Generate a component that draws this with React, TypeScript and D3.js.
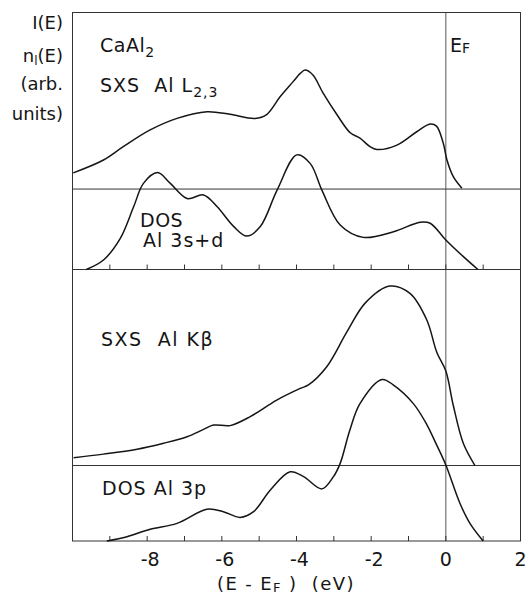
import React from "react";
import * as d3 from "d3";

// x axis (E - E_F, eV)
const xDomain = [-10, 2];
const xTicksMinor = [-9, -8, -7, -6, -5, -4, -3, -2, -1, 0, 1];
const xTickLabels = [-8, -6, -4, -2, 0, 2];

// Upper panel: SXS Al L2,3 (offset above baseline) and DOS Al 3s+d
const sxsL23E = [-9.98, -9.17, -8.64, -7.92, -7.2, -6.4, -5.78, -5.11, -4.8, -4.44, -4.09, -3.9, -3.77, -3.56, -3.29, -2.91, -2.56, -2.3, -2.03, -1.85, -1.31, -0.78, -0.42, -0.25, -0.07, 0.03, 0.2, 0.43];
const sxsL23I = [6.3, 11.3, 16.5, 23.0, 27.5, 30.1, 29.1, 27.5, 29.0, 35.9, 41.8, 45.0, 46.3, 44.4, 37.4, 28.8, 21.9, 19.8, 16.5, 15.4, 17.1, 22.3, 25.3, 24.5, 17.9, 11.3, 4.8, 0.3];
const sxsL23Offset = 31.3;

const dos3sdE = [-9.63, -9.17, -8.72, -8.36, -8.1, -7.72, -7.38, -6.93, -6.49, -6.13, -5.68, -5.33, -4.97, -4.52, -3.99, -3.63, -3.32, -2.83, -2.21, -1.4, -0.69, -0.42, 0, 0.47, 0.86];
const dos3sdN = [0, 3.7, 12.1, 24.5, 33.5, 37.7, 33.5, 27.6, 29.0, 24.5, 16.7, 13.0, 16.7, 30.9, 44.6, 41.2, 30.9, 17.3, 12.5, 14.7, 18.4, 18.0, 11.5, 5.0, 0];

// Lower panel: SXS Al Kβ (offset above baseline) and DOS Al 3p
const sxsKbE = [-9.97, -9.17, -8.27, -7.56, -6.93, -6.49, -6.22, -5.78, -5.24, -4.53, -3.9, -3.68, -3.19, -2.65, -2.15, -1.5, -0.96, -0.51, -0.24, 0, 0.2, 0.47, 0.78];
const sxsKbI = [2.9, 4.2, 6.0, 8.2, 10.6, 13.3, 14.9, 14.7, 18.0, 24.1, 28.4, 29.7, 36.4, 49.2, 60.0, 66.1, 63.4, 53.6, 41.6, 34.8, 22.1, 8.1, 0];
const sxsKbOffset = 27.8;

const dos3pE = [-9.08, -8.54, -7.92, -7.2, -6.4, -5.96, -5.51, -5.15, -4.7, -4.17, -3.81, -3.32, -3.01, -2.83, -2.57, -2.3, -1.71, -1.41, -0.87, -0.51, -0.24, 0, 0.38, 0.65, 1.0];
const dos3pN = [0, 1.6, 4.3, 6.5, 11.7, 10.8, 8.7, 10.8, 18.8, 25.5, 23.7, 19.2, 23.7, 28.6, 40.9, 50.6, 59.5, 57.5, 50.6, 42.9, 35.2, 28.0, 13.8, 6.4, 0];

const W = 528;
const H = 596;
const left = 72.5;
const right = 520.5;
const top = 12.5;
const mid = 269.5;
const bottom = 541;

const FONT = "'DejaVu Sans', sans-serif";
const INK = "#151515";

export default function App() {
  const x = d3.scaleLinear().domain(xDomain).range([left, right]);
  const yTop = d3.scaleLinear().domain([0, 100]).range([mid, top]);
  const yBot = d3.scaleLinear().domain([0, 100]).range([bottom, mid]);

  const mk = (xs: number[], ys: number[], off: number, ys2: d3.ScaleLinear<number, number>) =>
    d3
      .line<number>()
      .x((_, i) => x(xs[i]))
      .y((_, i) => ys2(ys[i] + off))
      .curve(d3.curveCatmullRom.alpha(0.5))(ys) || "";

  const pL23 = mk(sxsL23E, sxsL23I, sxsL23Offset, yTop);
  const p3sd = mk(dos3sdE, dos3sdN, 0, yTop);
  const pKb = mk(sxsKbE, sxsKbI, sxsKbOffset, yBot);
  const p3p = mk(dos3pE, dos3pN, 0, yBot);

  const tickLen = 5;
  const txt = { fontFamily: FONT, fill: INK } as const;

  return (
    <div style={{ position: "absolute", left: 0, top: 0 }}>
      <svg width={W} height={H} viewBox={`0 0 ${W} ${H}`} style={{ display: "block", background: "#fff" }}>
        {/* frame */}
        <rect x={left} y={top} width={right - left} height={bottom - top} fill="none" stroke="#333" strokeWidth={1} />
        <line x1={left} x2={right} y1={mid} y2={mid} stroke="#333" strokeWidth={1} />
        {/* inner baselines */}
        <line x1={left} x2={right} y1={yTop(sxsL23Offset)} y2={yTop(sxsL23Offset)} stroke="#333" strokeWidth={1} />
        <line x1={left} x2={right} y1={yBot(sxsKbOffset)} y2={yBot(sxsKbOffset)} stroke="#333" strokeWidth={1} />
        {/* E_F line */}
        <line x1={x(0)} x2={x(0)} y1={top} y2={bottom} stroke="#444" strokeWidth={0.9} />
        {/* ticks */}
        {xTicksMinor.map((t) => (
          <g key={t}>
            <line x1={x(t)} x2={x(t)} y1={mid} y2={mid - tickLen} stroke="#333" strokeWidth={1} />
            <line x1={x(t)} x2={x(t)} y1={bottom} y2={bottom - tickLen} stroke="#333" strokeWidth={1} />
          </g>
        ))}
        {xTickLabels.map((t) => (
          <text key={t} x={x(t) + (t < 0 ? 3 : 0)} y={566} textAnchor="middle" fontSize={19} {...txt}>
            {t < 0 ? `-${Math.abs(t)}` : `${t}`}
          </text>
        ))}
        {/* curves */}
        <path d={pL23} fill="none" stroke={INK} strokeWidth={1.5} />
        <path d={p3sd} fill="none" stroke={INK} strokeWidth={1.5} />
        <path d={pKb} fill="none" stroke={INK} strokeWidth={1.5} />
        <path d={p3p} fill="none" stroke={INK} strokeWidth={1.5} />

        {/* y label */}
        <g fontSize={18} textAnchor="end" {...txt}>
          <text x={63} y={29}>I(E)</text>
          <text x={63} y={62}>
            n<tspan fontSize={12} dy={3}>l</tspan><tspan dy={-3}>(E)</tspan>
          </text>
          <text x={63} y={90}>(arb.</text>
          <text x={63} y={120}>units)</text>
        </g>

        {/* panel labels */}
        <g fontSize={19} {...txt}>
          <text x={100} y={52} letterSpacing={0.5}>
            CaAl<tspan fontSize={14} dy={5}>2</tspan>
          </text>
          <text x={100} y={92} letterSpacing={1} style={{ whiteSpace: "pre" }}>
            {"SXS  Al L"}<tspan fontSize={14} dy={5}>2,3</tspan>
          </text>
          <text x={450} y={52}>
            E<tspan fontSize={14} dy={1}>F</tspan>
          </text>
          <text x={140} y={227} letterSpacing={0.5}>DOS</text>
          <text x={143} y={247} letterSpacing={1} style={{ whiteSpace: "pre" }}>{"Al 3s+d"}</text>
          <text x={101} y={346} letterSpacing={1.5} style={{ whiteSpace: "pre" }}>{"SXS  Al Kβ"}</text>
          <text x={102} y={495} letterSpacing={1} style={{ whiteSpace: "pre" }}>{"DOS Al 3p"}</text>
        </g>

        {/* x label */}
        <text x={217} y={590} fontSize={18} letterSpacing={1.4} {...txt} style={{ whiteSpace: "pre" }}>
          {"(E - E"}<tspan fontSize={13} dy={2}>F</tspan><tspan dy={-2}>{" )  (eV)"}</tspan>
        </text>
      </svg>
    </div>
  );
}
